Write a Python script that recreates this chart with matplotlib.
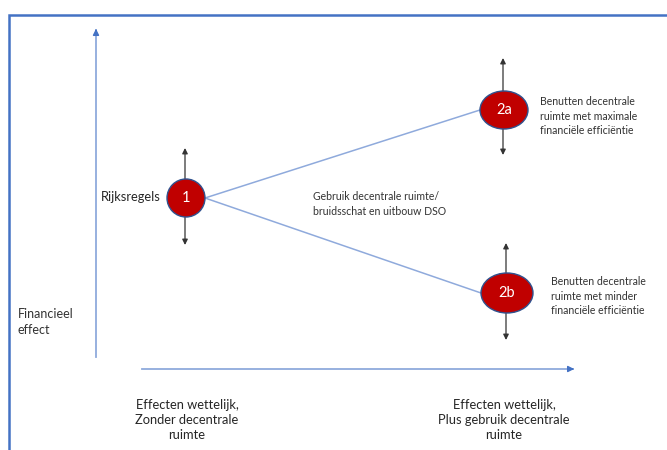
import matplotlib.pyplot as plt
from matplotlib.patches import Ellipse

# node layout (pixel coordinates of the diagram)
node_labels = ['1', '2a', '2b']
node_x = [186, 504, 507]
node_y = [198, 110, 293]
node_w = [38, 48, 52]
node_h = [38, 38, 40]
# vertical arrows through the nodes: (top tip, bottom tip)
arrow_top = [148, 58, 243]
arrow_bot = [245, 155, 340]

side_texts = ['Benutten decentrale\nruimte met maximale\nfinanciële efficiëntie',
              'Benutten decentrale\nruimte met minder\nfinanciële efficiëntie']
side_x = [540, 551]
side_y = [116, 296]

middle_text = 'Gebruik decentrale ruimte/\nbruidsschat en uitbouw DSO'
x_labels = ['Effecten wettelijk,\nZonder decentrale\nruimte',
            'Effecten wettelijk,\nPlus gebruik decentrale\nruimte']
x_label_pos = [187, 504]

plt.rcParams['font.family'] = ['Lato', 'DejaVu Sans']

fig = plt.figure(figsize=(6.67, 4.5), dpi=100)
ax = fig.add_axes([0, 0, 1, 1])
ax.set_xlim(0, 667)
ax.set_ylim(450, 0)
ax.axis('off')

# frame (top and left border)
ax.plot([9, 9, 667], [450, 15, 15], color='#4472C4', lw=1.8, solid_joinstyle='miter')

# axes arrows
ax.plot([96, 96], [357, 32], color='#8FAADC', lw=1.3)
ax.annotate('', xy=(96, 26), xytext=(96, 34),
            arrowprops=dict(arrowstyle='-|>', color='#4472C4', lw=1, mutation_scale=9))
ax.plot([142, 570], [369, 369], color='#8FAADC', lw=1.3)
ax.annotate('', xy=(577, 369), xytext=(569, 369),
            arrowprops=dict(arrowstyle='-|>', color='#4472C4', lw=1, mutation_scale=9))

# connecting lines
for i in [1, 2]:
    ax.plot([node_x[0] + node_w[0] / 2, node_x[i] - node_w[i] / 2],
            [node_y[0], node_y[i]], color='#8FAADC', lw=1.1, zorder=2)

# vertical double arrows
for i in range(3):
    for tip in [arrow_top[i], arrow_bot[i]]:
        ax.annotate('', xy=(node_x[i] - 1, tip), xytext=(node_x[i] - 1, node_y[i]),
                    arrowprops=dict(arrowstyle='-|>', color='#333333', lw=0.9,
                                    mutation_scale=8, shrinkA=0, shrinkB=0),
                    zorder=3)

# nodes
for i in range(3):
    e = Ellipse((node_x[i], node_y[i]), node_w[i], node_h[i],
                facecolor='#C00000', edgecolor='#2F528F', lw=1, zorder=4)
    ax.add_patch(e)
    ax.text(node_x[i], node_y[i], node_labels[i], color='white', fontsize=10.5,
            ha='center', va='center', zorder=5)

ax.text(161, 197, 'Rijksregels', fontsize=9.3, ha='right', va='center', color='#262626')

for t, x, y in zip(side_texts, side_x, side_y):
    ax.text(x, y, t, fontsize=7.6, ha='left', va='center', color='#333333', linespacing=1.4)

ax.text(313, 204, middle_text, fontsize=7.6, ha='left', va='center', color='#333333',
        linespacing=1.45)

ax.text(18, 322, 'Financieel\neffect', fontsize=9, ha='left', va='center',
        color='#333333', linespacing=1.4)

for t, x in zip(x_labels, x_label_pos):
    ax.text(x, 420, t, fontsize=9.3, ha='center', va='center', color='#262626',
            linespacing=1.3)

fig.savefig('out.png', dpi=100)
